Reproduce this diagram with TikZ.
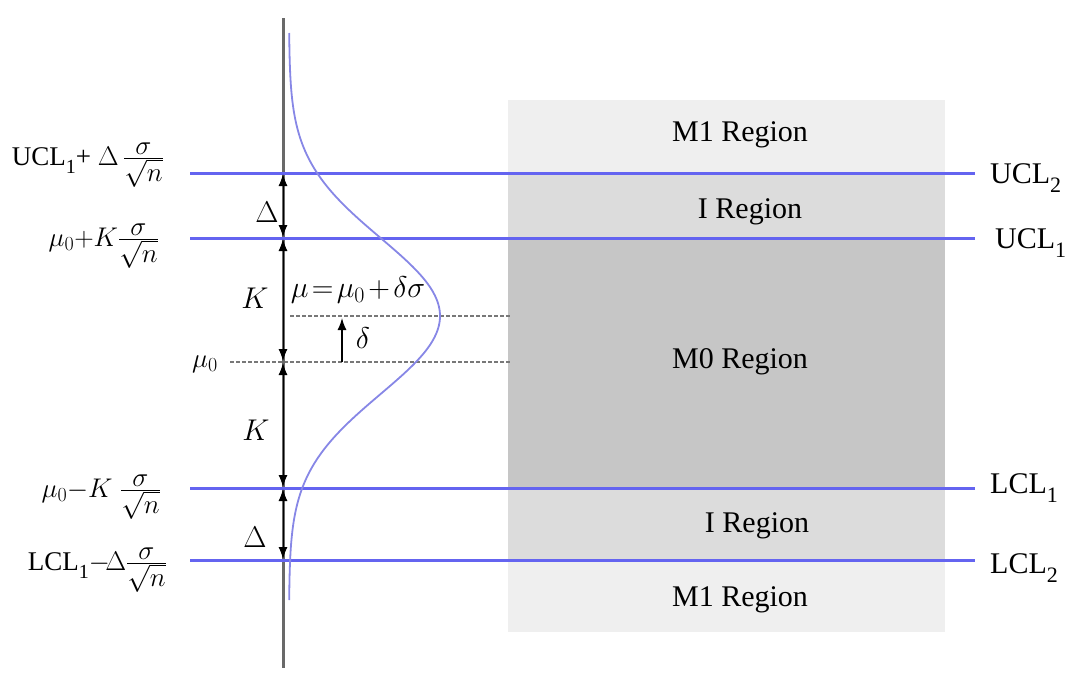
\RequirePackage{fix-cm}
\documentclass[tikz,border=0pt]{standalone}
\usepackage{fontspec}
\setmainfont{Liberation Serif}
\usetikzlibrary{arrows.meta}
\DeclareMathSizes{30}{30}{22}{16}
\DeclareMathSizes{27}{27}{20}{14}
\newcommand{\sfr}{\frac{\displaystyle\sigma}{\displaystyle\sqrt{n}}}
\newcommand{\lsub}[1]{\raisebox{-9pt}{\fontsize{22}{22}\selectfont #1}}
\newcommand{\ssub}[1]{\raisebox{-8pt}{\fontsize{20}{20}\selectfont #1}}
\definecolor{limblue}{RGB}{100,100,240}
\definecolor{curveblue}{RGB}{135,135,230}
\definecolor{axisgray}{RGB}{105,105,105}
\definecolor{dotgray}{RGB}{120,120,120}
\definecolor{mone}{RGB}{239,239,239}
\definecolor{ireg}{RGB}{220,220,220}
\definecolor{mzero}{RGB}{198,198,198}
\tikzset{
  lbl/.style={font=\fontsize{30}{36}\selectfont, inner sep=0pt},
  llbl/.style={font=\fontsize{27}{32}\selectfont, inner sep=0pt, anchor=base east},
  limline/.style={draw=limblue, line width=3pt},
  dotline/.style={draw=dotgray, line width=2pt, dash pattern=on 4pt off 2pt},
  dimarrow/.style={{Latex[length=12pt,width=9pt]}-{Latex[length=12pt,width=9pt]}, line width=1pt, black},
}
\begin{document}
\begin{tikzpicture}[x=1pt,y=-1pt]
\useasboundingbox (0,0) rectangle (1068,680);
% regions
\fill[mone] (508,100) rectangle (945,632);
\fill[ireg] (508,173) rectangle (945,238);
\fill[mzero] (508,238) rectangle (945,488);
\fill[ireg] (508,488) rectangle (945,560);
% coordinates
\coordinate (ucl2L) at (190,173); \coordinate (ucl2R) at (975,173);
\coordinate (ucl1L) at (190,238); \coordinate (ucl1R) at (975,238);
\coordinate (lcl1L) at (190,488); \coordinate (lcl1R) at (975,488);
\coordinate (lcl2L) at (190,560); \coordinate (lcl2R) at (975,560);
\coordinate (m0L) at (230,362); \coordinate (m0R) at (510,362);
\coordinate (muL) at (290,316); \coordinate (muR) at (510,316);
\coordinate (axT) at (283,18); \coordinate (axB) at (283,668);
% dotted mean lines
\draw[dotline] (m0L) -- (m0R);
\draw[dotline] (muL) -- (muR);
% axis
\draw[axisgray, line width=3pt] (axT) -- (axB);
% limit lines
\draw[limline] (ucl2L) -- (ucl2R);
\draw[limline] (ucl1L) -- (ucl1R);
\draw[limline] (lcl1L) -- (lcl1R);
\draw[limline] (lcl2L) -- (lcl2R);
% dimension arrows
\coordinate (a1) at (283,174); \coordinate (a2) at (283,237);
\coordinate (a3) at (283,239); \coordinate (a4) at (283,361);
\coordinate (a5) at (283,363); \coordinate (a6) at (283,487);
\coordinate (a7) at (283,489); \coordinate (a8) at (283,559);
\draw[dimarrow] (a1) -- (a2);
\draw[dimarrow] (a3) -- (a4);
\draw[dimarrow] (a5) -- (a6);
\draw[dimarrow] (a7) -- (a8);
% delta arrow
\coordinate (dA) at (342,362); \coordinate (dB) at (342,318);
\draw[-{Latex[length=12pt,width=9pt]}, line width=1.4pt] (dA) -- (dB);
% bell curve
\draw[curveblue, line width=1.8pt] plot[domain=33:600, samples=150, smooth] ({289+151*exp(-0.5*((\x-316)/78)^2)}, \x);
% region labels
\node[lbl] (r1) at (740,135) {M1 Region};
\node[lbl] (r2) at (750,212) {I Region};
\node[lbl] (r3) at (740,362) {M0 Region};
\node[lbl] (r4) at (757,526) {I Region};
\node[lbl] (r5) at (740,600) {M1 Region};
% right labels
\node[lbl, anchor=base west] (ru2) at (990,183) {UCL\lsub{2}};
\node[lbl, anchor=base west] (ru1) at (995,248) {UCL\lsub{1}};
\node[lbl, anchor=base west] (rl1) at (990,493) {LCL\lsub{1}};
\node[lbl, anchor=base west] (rl2) at (990,573) {LCL\lsub{2}};
% left labels
\node[llbl] (lu2) at (164,165) {UCL\ssub{1}+ $\Delta\,\sfr$};
\node[llbl] (lu1) at (159,246) {$\mu_0{+}K\sfr$};
\node[llbl] (lm0) at (218,367) {$\mu_0$};
\node[llbl] (ll1) at (161,497) {$\mu_0{-}K\;\sfr$};
\node[llbl] (ll2) at (167,570) {LCL\ssub{1}$-\!\Delta\sfr$};
% axis labels
\node[lbl] (kd1) at (267,212) {$\Delta$};
\node[lbl] (kk1) at (255,298) {$K$};
\node[lbl] (kk2) at (256,430) {$K$};
\node[lbl] (kd2) at (255,537) {$\Delta$};
\node[lbl] (mueq) at (358,290) {$\mu\mkern2mu{=}\mkern2mu\mu_0\mkern2mu{+}\mkern2mu\delta\sigma$};
\node[lbl] (dl) at (363,338) {$\delta$};
\end{tikzpicture}
\end{document}
